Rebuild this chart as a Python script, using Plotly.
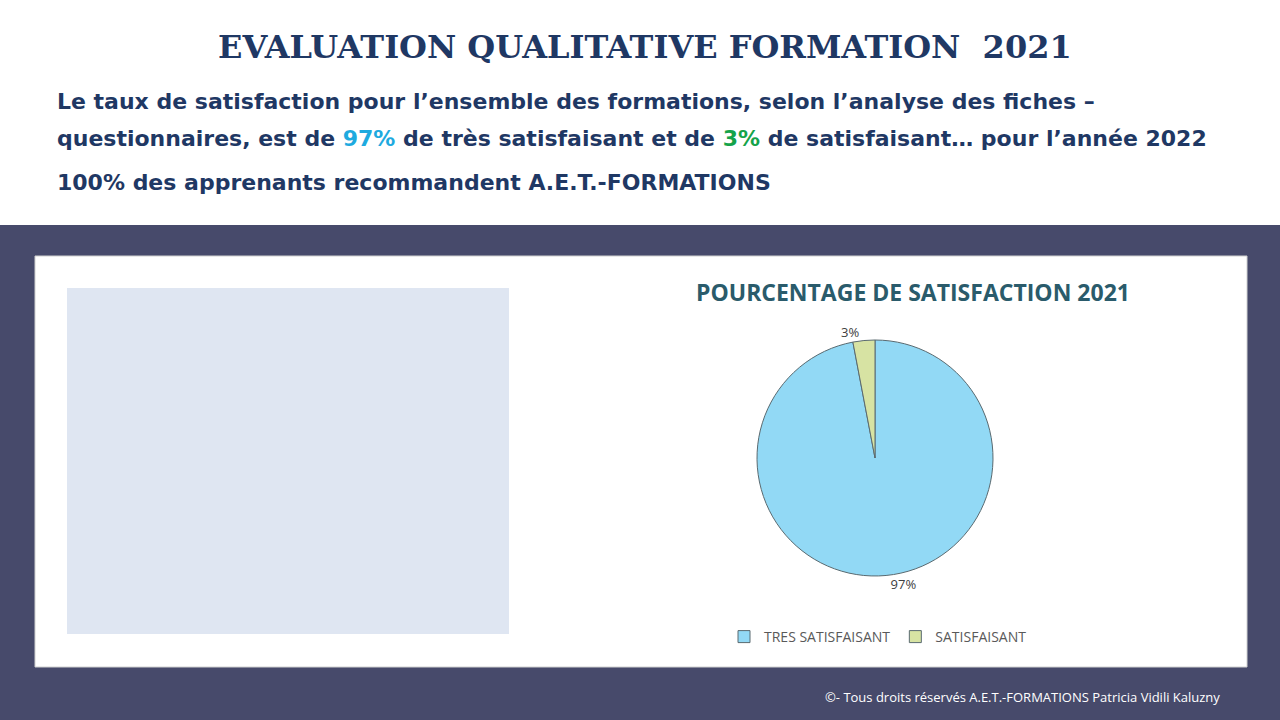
import plotly.graph_objects as go

labels = ["TRES SATISFAISANT", "SATISFAISANT"]
values = [97, 3]
colors = ["#92d9f5", "#d7e3a3"]

W, H = 1280, 720
def px(x): return x / W
def py(y): return 1 - y / H

fig = go.Figure()
fig.add_trace(go.Pie(
    labels=labels, values=values, sort=False, direction="clockwise", rotation=0,
    marker=dict(colors=colors, line=dict(color="#5a6a70", width=1)),
    textinfo="percent", textposition="outside", texttemplate="%{percent:.0%}",
    textfont=dict(family="Open Sans", size=13, color="#404040"),
    domain=dict(x=[px(757), px(993)], y=[py(576), py(340)]),
    showlegend=True, hoverinfo="label+percent"))

shapes = [
    dict(type="rect", xref="paper", yref="paper", x0=0, x1=1, y0=0, y1=py(225),
         fillcolor="#474a6b", line=dict(width=0), layer="below"),
    dict(type="rect", xref="paper", yref="paper", x0=px(35), x1=px(1247), y0=py(667), y1=py(256),
         fillcolor="white", line=dict(color="#d0d0d0", width=1), layer="below"),
    dict(type="rect", xref="paper", yref="paper", x0=px(67), x1=px(509), y0=py(634), y1=py(288),
         fillcolor="#dfe6f2", line=dict(width=0), layer="below"),
]

ann = [
    dict(text="<b>EVALUATION QUALITATIVE FORMATION  2021</b>", x=px(645), y=py(47),
         font=dict(family="DejaVu Serif", size=32, color="#1f3864")),
    dict(text="<b>Le taux de satisfaction pour l’ensemble des formations, selon l’analyse des fiches –</b>",
         x=px(55), y=py(102), xanchor="left", font=dict(family="DejaVu Sans", size=22, color="#1f3864")),
    dict(text="<b>questionnaires, est de <span style='color:#1eaadf'>97%</span> de très satisfaisant et de "
              "<span style='color:#15a34a'>3%</span> de satisfaisant… pour l’année 2022</b>",
         x=px(55), y=py(138), xanchor="left", font=dict(family="DejaVu Sans", size=22, color="#1f3864")),
    dict(text="<b>100% des apprenants recommandent A.E.T.-FORMATIONS</b>",
         x=px(55), y=py(182), xanchor="left", font=dict(family="DejaVu Sans", size=22, color="#1f3864")),
    dict(text="<b>POURCENTAGE DE SATISFACTION 2021</b>", x=px(913), y=py(292),
         font=dict(family="Open Sans", size=23, color="#2a5b6b")),
    dict(text="©- Tous droits réservés A.E.T.-FORMATIONS Patricia Vidili Kaluzny", x=px(1222), y=py(697),
         xanchor="right", font=dict(family="Open Sans", size=13, color="white")),
]
for a in ann:
    a.update(xref="paper", yref="paper", showarrow=False, yanchor="middle")
    a.setdefault("xanchor", "center")

fig.update_layout(
    width=W, height=H, margin=dict(l=0, r=0, t=0, b=0),
    paper_bgcolor="white", plot_bgcolor="white",
    shapes=shapes, annotations=ann,
    legend=dict(orientation="h", x=px(878), y=py(637), xanchor="center", yanchor="middle",
                font=dict(family="Open Sans", size=14, color="#595959")),
)
fig.write_html("out.html", config={"displayModeBar": False})
with open("out.html", encoding="utf-8") as f:
    html = f.read()
html = html.replace("<head>", "<head><style>html,body{margin:0;padding:0;overflow:hidden}</style>", 1)
with open("out.html", "w", encoding="utf-8") as f:
    f.write(html)
